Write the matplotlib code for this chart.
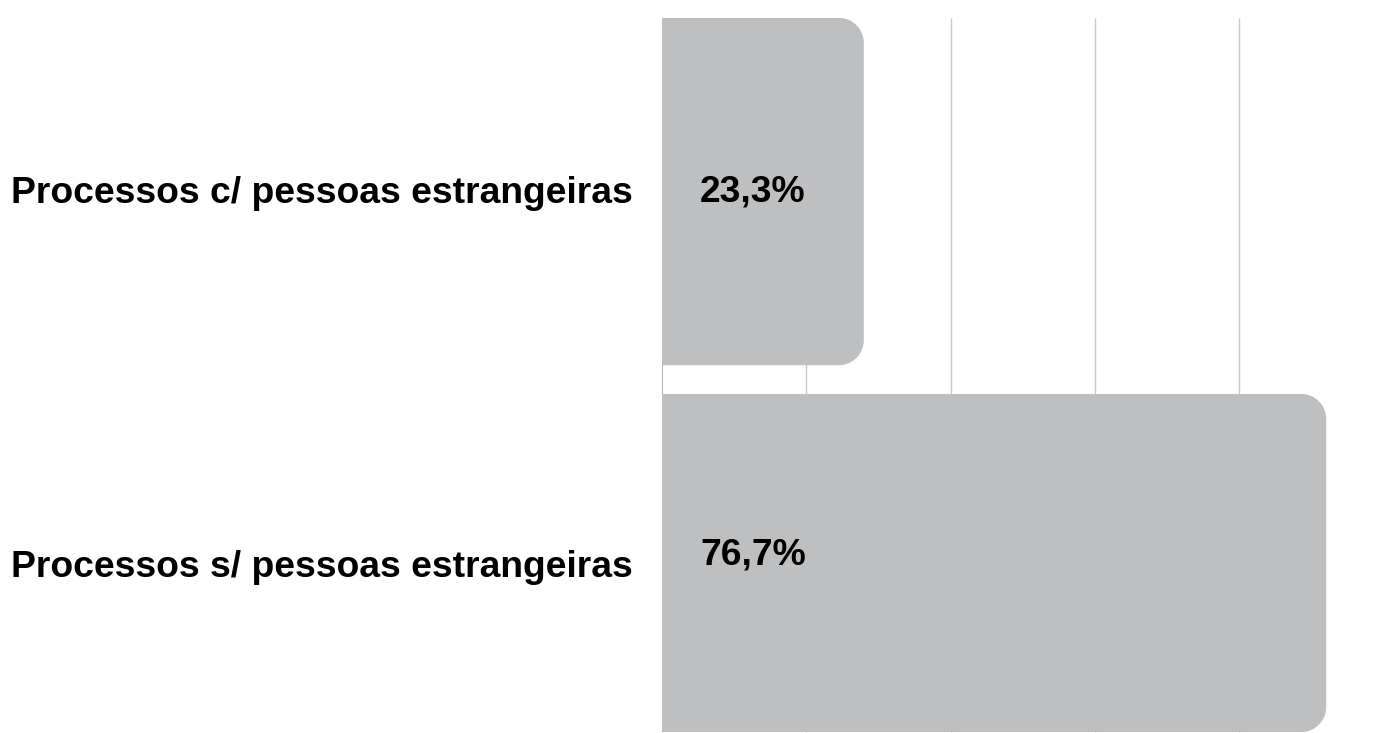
import matplotlib
matplotlib.use("Agg")
import matplotlib.pyplot as plt
from matplotlib.path import Path
from matplotlib.patches import PathPatch

plt.rcParams['font.family'] = ['Liberation Sans', 'DejaVu Sans']

categories = ["Processos c/ pessoas estrangeiras", "Processos s/ pessoas estrangeiras"]
values = [23.3, 76.7]
value_labels = ["23,3%", "76,7%"]
grid_ticks = [0, 100/6, 200/6, 300/6, 400/6]

W, H = 1375, 733
PXX = 8.66   # pixels per percent
PXY = 371.5  # pixels per category step
fig = plt.figure(figsize=(W/100, H/100), dpi=100)
ax = fig.add_axes([662/W, 0, 1 - 662/W, (H-18)/H])
xmax = (W-662)/PXX
ax.set_xlim(0, xmax)
ybot = 1 + (733-563)/PXY
ytop = -173.5/PXY
ax.set_ylim(ybot, ytop)

bar_heights = [0.935, 0.91]
color = "#bebfc1"
bars = ax.barh(range(len(values)), values, height=bar_heights, color="none", zorder=2)

rx = 25/PXX
ry = 25/PXY
k = 0.5523
for b in bars:
    x0, y0 = b.get_x(), b.get_y()
    w, h = b.get_width(), b.get_height()
    x1, y1 = x0 + w, y0 + h
    verts = [
        (x0, y0),
        (x1 - rx, y0),
        (x1 - rx + k*rx, y0), (x1, y0 + ry - k*ry), (x1, y0 + ry),
        (x1, y1 - ry),
        (x1, y1 - ry + k*ry), (x1 - rx + k*rx, y1), (x1 - rx, y1),
        (x0, y1),
        (x0, y0),
    ]
    codes = [Path.MOVETO, Path.LINETO,
             Path.CURVE4, Path.CURVE4, Path.CURVE4,
             Path.LINETO,
             Path.CURVE4, Path.CURVE4, Path.CURVE4,
             Path.LINETO, Path.CLOSEPOLY]
    ax.add_patch(PathPatch(Path(verts, codes), facecolor=color, edgecolor="none", zorder=2))

grid_bottom = bars[-1].get_y() + bars[-1].get_height()
ax.vlines(grid_ticks[1:], ytop, grid_bottom, color="#c8c8c8", lw=1.0, zorder=1)
ax.vlines([0], ytop, grid_bottom, color="#a0a0a0", lw=1.2, zorder=1)

for s in ax.spines.values():
    s.set_visible(False)
ax.set_xticks([])
ax.set_yticks([])

label_base = [11.2, 14.3]
value_base = [10.2, 2.0]
for i, (cat, lab) in enumerate(zip(categories, value_labels)):
    ax.text(-29/PXX, i + label_base[i]/PXY, cat, ha="right", va="baseline",
            fontsize=26.8, fontweight="bold", color="#000000")
    ax.text(38/PXX, i + value_base[i]/PXY, lab, ha="left", va="baseline",
            fontsize=26.8, fontweight="bold", color="#000000")

fig.savefig("out.png", dpi=100)
